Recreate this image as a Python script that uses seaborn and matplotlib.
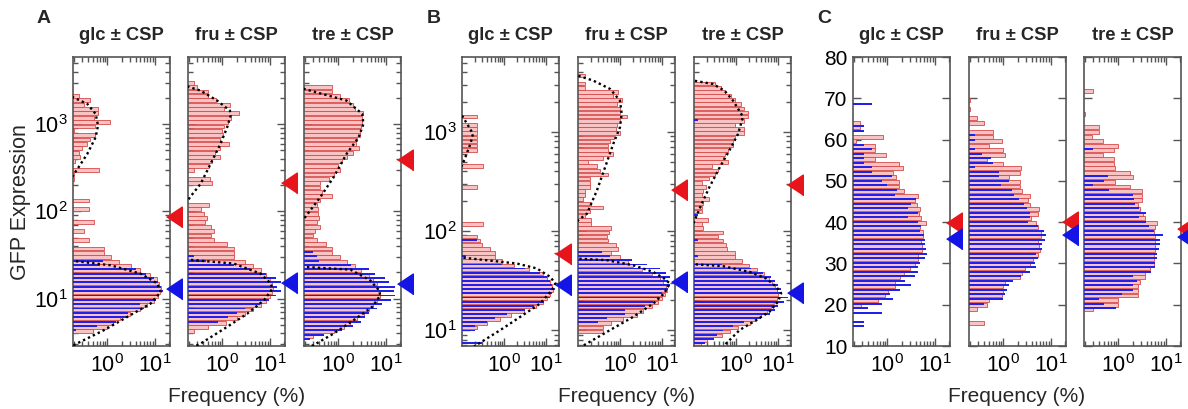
import numpy as np
import matplotlib
matplotlib.use("Agg")
import matplotlib.pyplot as plt
import seaborn as sns
from matplotlib.ticker import LogLocator, NullFormatter, FixedLocator, LogFormatterSciNotation

# ---------------- bin grids (log10 start / step for A, B; linear for C) ----------------
A_LOG_START, A_LOG_STEP = 0.45, 0.05
B_LOG_START, B_LOG_STEP = 0.84, 0.0417
C_START, C_STEP = 14.0, 1.1

titles = ["glc \u00b1 CSP", "fru \u00b1 CSP", "tre \u00b1 CSP"]
panel_letters = ["A", "B", "C"]
y_label = "GFP Expression"
x_label = "Frequency (%)"

# ---------------- Panel A: frequencies (%) per bin, + CSP (pink) and - CSP (blue) ----------------
A_glc_csp = [0, 0, 0, 0.5, 1.0, 1.3, 1.9, 3.0, 5.0, 7.0,
             9.5, 12, 13, 13.5, 12.5, 11, 8, 5, 3.1, 1.8,
             1.18, 0.85, 0.85, 0, 0.41, 0, 0.32, 0, 0.52, 0,
             0, 0.41, 0, 0.41, 0, 0, 0, 0, 0.2, 0.2,
             0.67, 0, 0.21, 0.27, 0.25, 0.30, 0.37, 0.44, 0.55, 0.2,
             0.55, 1.14, 0.52, 0.64, 0.64, 0.32, 0.43, 0.25, 0, 0]
A_glc_ctrl = [0, 0, 0, 0.22, 0.6, 1.5, 2.7, 2.8, 6.0, 5.0,
              10.5, 11.5, 15, 13.5, 12, 9.5, 6.5, 4, 0.7, 0.8]
A_fru_csp = [0, 0, 0, 0.25, 0.5, 1.2, 2.0, 3.0, 4.5, 6.5,
             8.5, 10, 11, 11.5, 11, 10, 8.5, 6.5, 4.5, 3.0,
             1.8, 1.76, 1.76, 1.27, 0.67, 0.57, 0.67, 0.57, 0.44, 0.48,
             0.41, 0.35, 0.52, 0, 0, 0, 0, 0.62, 0.55, 0,
             0.25, 0.52, 0.6, 0.9, 0.7, 0.9, 1.4, 0.9, 1.05, 1.0,
             1.1, 1.3, 1.5, 2.2, 1.1, 1.45, 0.75, 0.5, 0.5, 0.3,
             0.25]
A_fru_ctrl = [0, 0, 0, 0, 0, 0.8, 1.3, 2.0, 3.0, 6.2,
              9.5, 13.5, 17.5, 14, 17.5, 13.5, 8.5, 3.9, 1.8, 0.45,
              0.25]
A_tre_csp = [0, 0, 0.3, 0.8, 1.3, 1.8, 2.5, 3.5, 4.5, 5.5,
             6.5, 7.5, 7.5, 7.0, 6.5, 5.5, 4.5, 3.0, 2.2, 1.5,
             1.1, 0.75, 0.75, 0.55, 0.35, 0.3, 0.33, 0.42, 0.35, 0.4,
             0.38, 0.38, 0.35, 0.42, 0.73, 0.45, 0.42, 0.42, 0.65, 0.8,
             1.1, 1.0, 1.2, 1.5, 2.0, 2.7, 2.4, 2.5, 2.9, 2.9,
             3.0, 3.1, 3.2, 3.4, 2.2, 2.0, 1.65, 1.1, 0.73, 0.73]
A_tre_ctrl = [0, 0.25, 0.5, 1.2, 2.0, 3.0, 3.6, 4.4, 6.5, 8.5,
              13, 15.5, 15, 16, 12, 9.5, 6.0, 4.4, 1.9, 0.4,
              0.35, 0.3]

# ---------------- Panel B ----------------
B_glc_csp = [0, 0, 0, 0, 0.22, 0.4, 0.8, 1.5, 3.0, 6.0,
             8.5, 11, 13, 15, 14, 12.5, 11, 8.5, 4.0, 1.7,
             0.9, 0.62, 0.62, 0.45, 0.3, 0.26, 0.22, 0, 0, 0.31,
             0, 0, 0, 0, 0, 0, 0, 0, 0.22, 0,
             0, 0, 0, 0.31, 0, 0, 0, 0.22, 0.22, 0.22,
             0.22, 0.22, 0.22, 0.22, 0, 0.22]
B_glc_ctrl = [0.3, 0, 0, 0.2, 0.2, 0.39, 0.62, 1.2, 3.2, 5.2,
              9, 13, 14, 17, 14, 12.9, 10.8, 7.4, 3.2, 0.9,
              0, 0.12, 0, 0, 0, 0.22]
B_fru_csp = [0, 0, 0, 0.4, 0.4, 0.6, 1.2, 2.5, 3.5, 6.0,
             8.0, 10, 12, 13.5, 13, 11, 9, 6, 3.3, 2.1,
             1.6, 1.0, 0.6, 0.9, 0.8, 0.52, 0.48, 0.55, 0.61, 0.2,
             0.2, 0.14, 0.19, 0.4, 0.2, 0.13, 0.14, 0.14, 0.19, 0.19,
             0.19, 0.52, 0.33, 0.28, 0.17, 0.4, 0.69, 0.52, 0.52, 0.58,
             0.7, 1.0, 0.8, 0.83, 1.0, 1.5, 1.0, 1.0, 0.83, 1.14,
             0.69, 0.91, 0.14, 0.145, 0, 0.145]
B_fru_ctrl = [0, 0, 0, 0, 0, 0.3, 0.5, 1.3, 1.3, 4.0,
              6.3, 9, 10, 14.5, 15.8, 14.5, 15.8, 13, 9.1, 4.4,
              1.9, 0.58, 0.36]
B_tre_csp = [0.14, 0.2, 0.45, 0.7, 1.1, 2.2, 3.0, 4.0, 5.5, 7.0,
             8.0, 9.5, 10, 9.5, 8.5, 7.5, 6.2, 4.6, 3.2, 2.0,
             1.4, 0.93, 0.93, 0.6, 0.59, 0.49, 0.37, 0.49, 0.16, 0.155,
             0.21, 0, 0.15, 0.15, 0.16, 0.23, 0.15, 0.16, 0.19, 0.15,
             0.23, 0.31, 0.37, 0.27, 0.64, 0.49, 0.53, 0.64, 0.85, 0.85,
             0.93, 1.6, 1.6, 0.93, 1.6, 1.9, 1.94, 1.6, 1.34, 0.93,
             0.77, 0.53, 0.44, 0.31]
B_tre_ctrl = [0.18, 0.3, 0.35, 0.5, 0.85, 1.6, 4.1, 6.4, 8.5, 10,
              14.5, 17.5, 12.5, 12, 10, 8.5, 7.0, 4.5, 2.3, 0.45,
              0, 0.12, 0, 0, 0, 0.12, 0, 0, 0, 0,
              0, 0.12, 0, 0, 0, 0, 0, 0, 0, 0,
              0, 0, 0, 0, 0, 0, 0, 0, 0, 0,
              0, 0, 0, 0, 0.12]

# ---------------- Panel C (linear GFP axis) ----------------
C_glc_csp = [0, 0, 0, 0, 0, 0.28, 0.65, 0.9, 1.05, 1.45,
             1.45, 1.85, 2.3, 3.0, 3.8, 4.5, 4.5, 5.3, 5.5, 5.2,
             5.7, 5.8, 5.0, 6.7, 5.1, 4.7, 5.0, 4.3, 3.8, 4.5,
             2.25, 1.8, 1.8, 1.55, 1.34, 2.1, 1.8, 0.55, 0.94, 0.55,
             0.55, 0.22, 0.82, 0, 0.27, 0.27]
C_glc_ctrl = [0.32, 0.32, 0, 0.79, 0.4, 0.79, 1.3, 1.15, 1.85, 3.1,
              2.4, 3.9, 4.4, 4.5, 4.8, 6.2, 7.0, 6.5, 6.2, 6.2,
              5.9, 4.8, 5.2, 4.4, 2.8, 4.5, 2.7, 3.2, 4.1, 1.45,
              1.57, 0.97, 0.79, 1.27, 0.47, 0.47, 0.32, 0.32, 0.32, 0.47,
              0.32, 0, 0, 0.32, 0.32, 0, 0, 0, 0, 0.47]
C_fru_csp = [0, 0.39, 0, 0, 0.28, 0.45, 0.5, 0.93, 0.99, 0.99,
             1.1, 2.3, 2.5, 2.9, 3.6, 4.3, 5.5, 6.0, 5.8, 5.5,
             6.3, 6.3, 5.5, 4.8, 3.8, 5.5, 5.7, 3.6, 3.4, 3.6,
             2.5, 2.3, 2.3, 1.35, 2.3, 2.4, 1.0, 0.45, 1.1, 0.99,
             0.5, 0.92, 0.62, 0.62, 0.15, 0.39, 0.28, 0.15, 0.2, 0.18,
             0.2]
C_fru_ctrl = [0, 0, 0, 0, 0, 0.4, 1.0, 1.1, 1.2, 1.3,
              1.6, 2.4, 3.6, 5.0, 4.6, 5.4, 5.0, 6.4, 6.5, 7.5,
              7.8, 7.1, 5.5, 3.4, 3.7, 3.6, 3.2, 2.7, 2.1, 1.7,
              1.5, 0.9, 1.35, 0.81, 0.81, 0.25, 0.6, 0.55, 0.36, 0.25,
              0, 0.25, 0.25]
C_tre_csp = [0, 0, 0, 0, 0.29, 1.0, 1.0, 2.6, 2.6, 2.6,
             2.9, 3.6, 3.6, 4.7, 5.6, 5.6, 5.6, 6.0, 6.0, 6.0,
             6.0, 5.6, 6.0, 6.6, 3.6, 3.4, 2.9, 2.6, 3.1, 3.1,
             3.1, 1.75, 0.85, 2.0, 1.75, 0.85, 0.8, 0.8, 0.48, 0.8,
             1.0, 0.48, 0.28, 0.39, 0.39, 0, 0, 0.2, 0, 0,
             0, 0, 0.29]
C_tre_ctrl = [0, 0, 0, 0, 0.9, 0.5, 0.4, 1.2, 2.0, 2.0,
              2.5, 2.0, 5.0, 5.9, 5.9, 6.6, 6.6, 7.3, 7.5, 7.5,
              8.8, 5.6, 4.5, 3.9, 2.8, 3.9, 2.7, 2.2, 2.1, 2.0,
              0.63, 0.3, 0.5, 0.62, 0, 0, 0, 0, 0, 0.3]

# ---------------- fitted curves (dotted): GFP values and frequencies ----------------
A_glc_hi_y = [2300, 2037, 1710, 1313, 966, 710, 457, 322, 258, 220]
A_glc_hi_x = [0.15, 0.19, 0.38, 0.57, 0.64, 0.57, 0.38, 0.25, 0.19, 0.15]
A_glc_lo_y = [28, 27.0, 24.1, 19.3, 14.9, 11.9, 8.77, 6.17, 4.34, 3.19, 2.8]
A_glc_lo_x = [0.1, 0.20, 1.18, 5.06, 11.4, 13.4, 8.2, 2.65, 0.85, 0.27, 0.17]
A_fru_hi_y = [3000, 2698, 2427, 1866, 1433, 1256, 924, 596, 352, 207, 146, 134, 120]
A_fru_hi_x = [0.15, 0.19, 0.35, 0.78, 1.45, 1.5, 1.27, 0.92, 0.57, 0.35, 0.21, 0.19, 0.17]
A_fru_lo_y = [29, 28.0, 25.2, 19.3, 14.9, 13.0, 9.57, 6.73, 4.74, 3.05, 2.7]
A_fru_lo_x = [0.1, 0.19, 1.76, 6.45, 10.5, 11.4, 7.6, 3.37, 1.27, 0.35, 0.22]
A_tre_hi_y = [2800, 2540, 1866, 1313, 1009, 710, 457, 247, 146, 82.4, 75]
A_tre_hi_x = [0.15, 0.19, 1.5, 3.2, 3.4, 2.7, 1.5, 0.8, 0.42, 0.19, 0.17]
A_tre_lo_y = [24, 23.1, 21.5, 16.2, 12.5, 10.9, 8.03, 5.65, 3.97, 2.92, 2.7]
A_tre_lo_x = [0.1, 0.19, 1.8, 4.7, 7.2, 7.7, 5.2, 2.1, 0.8, 0.30, 0.2]
B_glc_hi_y = [1600, 1459, 1205, 955, 757, 555, 458, 420]
B_glc_hi_x = [0.08, 0.098, 0.13, 0.18, 0.156, 0.118, 0.098, 0.08]
B_glc_lo_y = [56, 53.9, 46.9, 41.8, 34.4, 29.5, 25.3, 18.5, 13.6, 10, 6.95, 6.5]
B_glc_lo_x = [0.08, 0.098, 2.05, 6.2, 12.9, 17.1, 14.2, 7.4, 2.47, 0.82, 0.205, 0.17]
B_fru_hi_y = [4000, 3690, 3288, 2711, 2067, 1517, 1114, 757, 441, 257, 149, 128, 115]
B_fru_hi_x = [0.08, 0.098, 0.23, 0.58, 1.0, 1.1, 1.0, 0.69, 0.44, 0.28, 0.16, 0.098, 0.08]
B_fru_lo_y = [55, 52.6, 50.7, 45.1, 38.6, 33.1, 29.5, 23.4, 18.5, 13.6, 10, 6.95, 6.5]
B_fru_lo_x = [0.08, 0.098, 0.48, 2.09, 6.3, 11.5, 15.8, 11.5, 6.3, 2.09, 0.58, 0.13, 0.11]
B_tre_hi_y = [3500, 3288, 3043, 2607, 2067, 1517, 1405, 955, 702, 441, 277, 188, 123, 110]
B_tre_hi_x = [0.08, 0.098, 0.28, 0.53, 0.85, 1.34, 1.47, 1.12, 0.77, 0.41, 0.23, 0.15, 0.098, 0.08]
B_tre_lo_y = [47, 46.2, 44.1, 38.6, 33.1, 27.3, 23.4, 19.3, 15.3, 12.6, 10, 7.9, 6.9]
B_tre_lo_x = [0.08, 0.093, 0.49, 2.13, 5.35, 9.3, 12.2, 10.2, 6.4, 3.07, 1.22, 0.7, 0.5]

# ---------------- mean markers (triangles) ----------------
A_red = [86, 211, 391]
A_blue = [13.0, 14.9, 14.6]
B_red = [59, 257, 288]
B_blue = [28.4, 30.7, 23.4]
C_red = [39.8, 40.0, 38.4]
C_blue = [35.8, 37.0, 36.4]

# ---------------- styling ----------------
sns.set_theme(style="ticks")
plt.rcParams["font.family"] = ["Liberation Sans", "DejaVu Sans"]
plt.rcParams["mathtext.default"] = "regular"

PINK = "#f9c3c3"
PINK_EDGE = "#d64a4a"
BLUE = "#2121ec"
TRI_RED = "#e8141c"
TRI_BLUE = "#1414e6"
SPINE = "#555555"
TRI = [(-0.75, 0.0), (0.75, 1.0), (0.75, -1.0)]

W, H = 1188, 409
fig = plt.figure(figsize=(W / 100, H / 100), dpi=100)

lefts = [[73, 188, 304], [462, 578, 694], [853, 969, 1084]]
AX_W = 97
AX_TOP, AX_BOT = 57, 346


def bar_edges(kind, start, step, n, f0, f1):
    k = np.arange(n)
    if kind == "log":
        lo = 10 ** (start + step * (k + f0))
        hi = 10 ** (start + step * (k + f1))
    else:
        lo = start + step * (k + f0)
        hi = start + step * (k + f1)
    return lo, hi


def draw_bars(ax, vals, kind, start, step, f0, f1, **kw):
    v = np.asarray(vals, dtype=float)
    lo, hi = bar_edges(kind, start, step, len(v), f0, f1)
    m = v > 0
    ax.barh(lo[m], v[m], height=(hi - lo)[m], left=1e-3, align="edge", **kw)


panels = [
    dict(kind="log", start=A_LOG_START, step=A_LOG_STEP, ylim=(2.86, 5900), xlim=(0.19, 21),
         csp=[A_glc_csp, A_fru_csp, A_tre_csp], ctrl=[A_glc_ctrl, A_fru_ctrl, A_tre_ctrl],
         fits=[[(A_glc_hi_x, A_glc_hi_y), (A_glc_lo_x, A_glc_lo_y)],
               [(A_fru_hi_x, A_fru_hi_y), (A_fru_lo_x, A_fru_lo_y)],
               [(A_tre_hi_x, A_tre_hi_y), (A_tre_lo_x, A_tre_lo_y)]],
         red=A_red, blue=A_blue),
    dict(kind="log", start=B_LOG_START, step=B_LOG_STEP, ylim=(6.9, 5700), xlim=(0.098, 21),
         csp=[B_glc_csp, B_fru_csp, B_tre_csp], ctrl=[B_glc_ctrl, B_fru_ctrl, B_tre_ctrl],
         fits=[[(B_glc_hi_x, B_glc_hi_y), (B_glc_lo_x, B_glc_lo_y)],
               [(B_fru_hi_x, B_fru_hi_y), (B_fru_lo_x, B_fru_lo_y)],
               [(B_tre_hi_x, B_tre_hi_y), (B_tre_lo_x, B_tre_lo_y)]],
         red=B_red, blue=B_blue),
    dict(kind="lin", start=C_START, step=C_STEP, ylim=(10, 80), xlim=(0.19, 21),
         csp=[C_glc_csp, C_fru_csp, C_tre_csp], ctrl=[C_glc_ctrl, C_fru_ctrl, C_tre_ctrl],
         fits=[[], [], []], red=C_red, blue=C_blue),
]

for g, P in enumerate(panels):
    for j in range(3):
        L = lefts[g][j]
        ax = fig.add_axes([L / W, 1 - AX_BOT / H, AX_W / W, (AX_BOT - AX_TOP) / H])
        ax.set_xscale("log")
        if P["kind"] == "log":
            ax.set_yscale("log")
        draw_bars(ax, P["csp"][j], P["kind"], P["start"], P["step"], 0.05, 0.92,
                  color=PINK, edgecolor=PINK_EDGE, linewidth=0.6, zorder=2)
        draw_bars(ax, P["ctrl"][j], P["kind"], P["start"], P["step"], 0.50, 0.94,
                  color=BLUE, edgecolor="none", linewidth=0, zorder=3)
        for fx, fy in P["fits"][j]:
            sns.lineplot(x=fx, y=fy, sort=False, estimator=None, ax=ax, color="black",
                         linestyle=(0, (1, 1.3)), linewidth=1.7, zorder=4, legend=False)
        ax.set_xlim(*P["xlim"])
        ax.set_ylim(*P["ylim"])
        tr = ax.get_yaxis_transform()
        ax.plot([1.037], [P["red"][j]], marker=TRI, markersize=15, color=TRI_RED,
                linestyle="none", transform=tr, clip_on=False, zorder=6)
        ax.plot([1.037], [P["blue"][j]], marker=TRI, markersize=15, color=TRI_BLUE,
                linestyle="none", transform=tr, clip_on=False, zorder=6)

        # axes styling
        for s in ax.spines.values():
            s.set_color(SPINE)
            s.set_linewidth(1.2)
        ax.xaxis.set_major_locator(FixedLocator([1, 10]))
        ax.xaxis.set_major_formatter(LogFormatterSciNotation())
        ax.xaxis.set_minor_locator(LogLocator(base=10, subs=np.arange(2, 10)))
        ax.xaxis.set_minor_formatter(NullFormatter())
        if P["kind"] == "log":
            ax.yaxis.set_major_locator(FixedLocator([10, 100, 1000]))
            ax.yaxis.set_major_formatter(LogFormatterSciNotation())
            ax.yaxis.set_minor_locator(LogLocator(base=10, subs=np.arange(2, 10)))
            ax.yaxis.set_minor_formatter(NullFormatter())
            ylab_size = 15.5
        else:
            ax.yaxis.set_major_locator(FixedLocator([10, 20, 30, 40, 50, 60, 70, 80]))
            ylab_size = 15
        ax.tick_params(which="both", direction="in", top=True, right=True,
                       color=SPINE, width=1.0, labelcolor="black")
        ax.tick_params(which="major", length=6)
        ax.tick_params(which="minor", length=3.5)
        ax.tick_params(axis="x", pad=6, labelsize=15.5)
        ax.tick_params(axis="y", pad=4, labelsize=ylab_size)
        if j > 0:
            ax.tick_params(axis="y", labelleft=False)
        ax.set_xlabel("")
        ax.set_ylabel("")
        cx = (L + AX_W / 2) / W
        fig.text(cx, 1 - 39.5 / H, titles[j], ha="center", va="baseline",
                 fontsize=13.2, fontweight="bold")

    gx = (lefts[g][0] + lefts[g][2] + AX_W) / 2 / W
    fig.text(gx, 1 - 402 / H, x_label, ha="center", va="baseline", fontsize=15)

for letter, xl in zip(panel_letters, [37, 427, 817]):
    fig.text(xl / W, 1 - 23 / H, letter, ha="left", va="baseline", fontsize=14, fontweight="bold")

fig.text(21 / W, 1 - 202 / H, y_label, rotation=90, ha="center", va="center", fontsize=15.5)

fig.savefig("out.png", dpi=100)
